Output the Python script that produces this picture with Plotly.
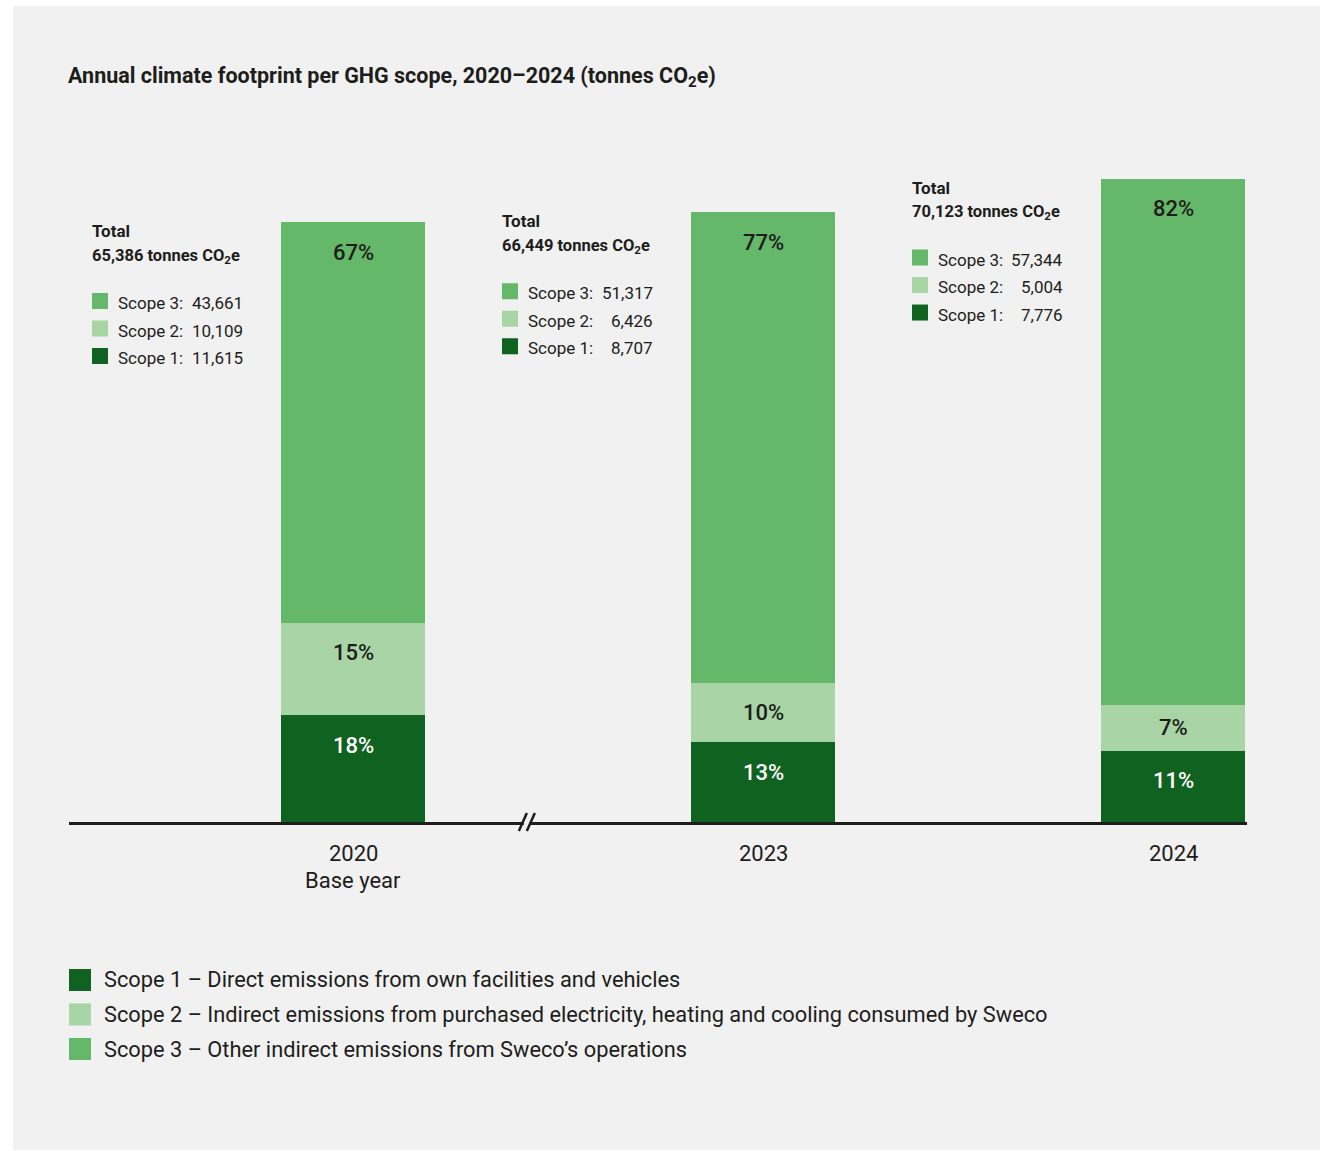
import plotly.graph_objects as go

# Annual emissions per GHG scope (tonnes CO2e)
years = ["2020", "2023", "2024"]
year_notes = ["Base year", "", ""]
scope1 = [11615, 8707, 7776]
scope2 = [10109, 6426, 5004]
scope3 = [43661, 51317, 57344]
totals = [65386, 66449, 70123]

scope_names = ["Scope 1", "Scope 2", "Scope 3"]
scope_desc = [
    "Scope 1 – Direct emissions from own facilities and vehicles",
    "Scope 2 – Indirect emissions from purchased electricity, heating and cooling consumed by Sweco",
    "Scope 3 – Other indirect emissions from Sweco’s operations",
]
colors = ["#0f6220", "#a9d5a6", "#65b76a"]
pct_colors = ["#ffffff", "#1d1d1b", "#1d1d1b"]

FONT = "Roboto"
TEXT = "#1d1d1b"
PANEL = "#f0f1f0"

W, H = 1326, 1151
ML, MR, MT, MB = 69, 79, 100, 329
PW, PH = W - ML - MR, H - MT - MB
UNIT = 410  # pixels per category step
x_lo = -284 / UNIT
x_hi = x_lo + PW / UNIT
y_hi = PH * totals[0] / 600
PX_PER_T = PH / y_hi


def paper_x(px):
    return (px - ML) / PW


def paper_y(py):
    return (H - MB - py) / PH


fig = go.Figure()
xs = list(range(len(years)))
series = [scope1, scope2, scope3]
for name, vals, col in zip(scope_names, series, colors):
    fig.add_trace(go.Bar(
        x=xs, y=vals, name=name, marker=dict(color=col, line=dict(width=0)),
        width=144 / UNIT, showlegend=False, hoverinfo="skip",
    ))

annotations = []
shapes = []

# grey panel behind the chart
shapes.append(dict(type="rect", xref="paper", yref="paper",
                   x0=paper_x(13), x1=paper_x(1320), y0=paper_y(1150), y1=paper_y(6),
                   fillcolor=PANEL, line=dict(width=0), layer="below"))

# percentage labels inside each segment (near the top, or centred in short segments)
for i in xs:
    base = 0
    for k, vals in enumerate(series):
        top = base + vals[i]
        pct = round(100 * vals[i] / totals[i])
        seg_px = vals[i] * PX_PER_T
        annotations.append(dict(
            x=i, y=top, xref="x", yref="y", text=f"{pct}%", showarrow=False,
            yanchor="middle", yshift=-min(30, seg_px / 2),
            font=dict(family=FONT, size=22, color=pct_colors[k], weight=500),
        ))
        base = top

# year labels under the axis
for i, (yr, note) in enumerate(zip(years, year_notes)):
    annotations.append(dict(
        x=i, y=0, xref="x", yref="paper", text=yr, showarrow=False,
        yanchor="middle", yshift=-31,
        font=dict(family=FONT, size=22, color=TEXT),
    ))
    if note:
        annotations.append(dict(
            x=i, y=0, xref="x", yref="paper", text=note, showarrow=False,
            yanchor="middle", yshift=-58,
            font=dict(family=FONT, size=22, color=TEXT),
        ))

# total + breakdown blocks beside each bar
BX = -263
for i in xs:
    t = totals[i]
    annotations.append(dict(
        x=i, y=t, xref="x", yref="y", xshift=BX, yshift=-9, text="<b>Total</b>",
        showarrow=False, xanchor="left", yanchor="middle",
        font=dict(family=FONT, size=17, color=TEXT),
    ))
    annotations.append(dict(
        x=i, y=t, xref="x", yref="y", xshift=BX, yshift=-34,
        text=f"<b>{t:,} tonnes CO<sub>2</sub>e</b>",
        showarrow=False, xanchor="left", yanchor="middle",
        font=dict(family=FONT, size=16.5, color=TEXT),
    ))
    rows = [(2, scope3[i]), (1, scope2[i]), (0, scope1[i])]
    for r, (k, v) in enumerate(rows):
        dy = -(81 + 27.5 * r)
        shapes.append(dict(
            type="rect", xref="x", yref="y",
            xsizemode="pixel", ysizemode="pixel", xanchor=i, yanchor=t,
            x0=BX + 2, x1=BX + 18, y0=dy - 6, y1=dy + 10,
            fillcolor=colors[k], line=dict(width=0),
        ))
        annotations.append(dict(
            x=i, y=t, xref="x", yref="y", xshift=BX + 26, yshift=dy,
            text=f"{scope_names[k]}:", showarrow=False,
            xanchor="left", yanchor="middle",
            font=dict(family=FONT, size=17, color=TEXT),
        ))
        annotations.append(dict(
            x=i, y=t, xref="x", yref="y", xshift=BX + 155, yshift=dy,
            text=f"{v:,}", showarrow=False,
            xanchor="right", yanchor="middle",
            font=dict(family=FONT, size=17, color=TEXT),
        ))

# axis break marker between the base year and later years
BREAK_X = 0.424
shapes.append(dict(
    type="rect", xref="x", yref="paper", xsizemode="pixel", ysizemode="pixel",
    xanchor=BREAK_X, yanchor=0, x0=-3, x1=3, y0=-3, y1=3,
    fillcolor=PANEL, line=dict(width=0), layer="above",
))
for off in (-4, 4):
    shapes.append(dict(
        type="line", xref="x", yref="paper", xsizemode="pixel", ysizemode="pixel",
        xanchor=BREAK_X, yanchor=0, x0=off - 4, x1=off + 4, y0=-9, y1=9,
        line=dict(color="#1d1d1b", width=2.5), layer="above",
    ))

# scope legend at the bottom
for k in range(3):
    cy = 980 + 34.5 * k
    shapes.append(dict(
        type="rect", xref="paper", yref="paper",
        x0=paper_x(69), x1=paper_x(91), y0=paper_y(cy + 11), y1=paper_y(cy - 11),
        fillcolor=colors[k], line=dict(width=0),
    ))
    annotations.append(dict(
        x=paper_x(102), y=paper_y(cy), xref="paper", yref="paper",
        text=scope_desc[k], showarrow=False, xanchor="left", yanchor="middle",
        font=dict(family=FONT, size=21.8, color=TEXT),
    ))

fig.update_layout(
    width=W, height=H, autosize=False,
    margin=dict(l=ML, r=MR, t=MT, b=MB, pad=0),
    paper_bgcolor="#ffffff", plot_bgcolor="rgba(0,0,0,0)",
    barmode="stack", bargap=0,
    title=dict(
        text="<b>Annual climate footprint per GHG scope, 2020–2024 (tonnes CO<sub>2</sub>e)</b>",
        x=(ML - 1) / W, xanchor="left",
        y=1 - 75 / H, yanchor="middle",
        font=dict(family=FONT, size=21.5, color=TEXT),
    ),
    xaxis=dict(range=[x_lo, x_hi], showline=True, linecolor="#1d1d1b", linewidth=2.5,
               showgrid=False, zeroline=False, showticklabels=False, ticks="",
               fixedrange=True),
    yaxis=dict(range=[0, y_hi], visible=False, fixedrange=True),
    annotations=annotations, shapes=shapes,
    font=dict(family=FONT, color=TEXT),
)

fig.write_html("out.html")
